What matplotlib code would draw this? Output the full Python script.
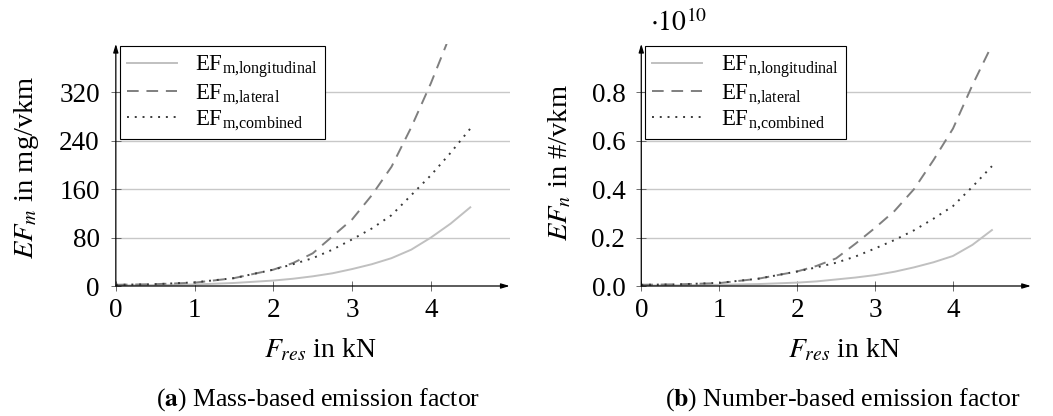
import matplotlib
matplotlib.use("Agg")
import matplotlib.pyplot as plt
import numpy as np

plt.rcParams['font.family'] = ['Liberation Serif', 'DejaVu Serif']
plt.rcParams['mathtext.fontset'] = 'stix'

# ---- data ----
f_res = [0, 0.5, 1, 1.5, 2, 2.25, 2.5, 2.75, 3, 3.25, 3.5, 3.75, 4, 4.25, 4.5]
f_res_lat_m = [0, 0.5, 1, 1.5, 2, 2.25, 2.5, 2.75, 3, 3.25, 3.5, 3.75, 4, 4.2]

ef_m_long = [1, 1.5, 2.5, 5, 9, 12, 16, 21, 28, 36, 46, 60, 80, 103, 130]
ef_m_lat = [2, 3, 5.5, 13, 27, 38, 54, 82, 110, 150, 197, 262, 335, 400]
ef_m_comb = [2, 3, 6, 13, 27, 36, 46, 60, 77, 95, 117, 150, 183, 220, 260]

# number-based values in units of 1e10 #/vkm
ef_n_long = [0.002, 0.003, 0.005, 0.008, 0.014, 0.019, 0.027, 0.035, 0.045, 0.059, 0.077, 0.098, 0.124, 0.17, 0.231]
ef_n_lat = [0.005, 0.007, 0.012, 0.03, 0.06, 0.083, 0.114, 0.175, 0.24, 0.31, 0.40, 0.52, 0.65, 0.83, 0.995]
ef_n_comb = [0.005, 0.007, 0.013, 0.03, 0.06, 0.077, 0.096, 0.122, 0.155, 0.19, 0.23, 0.278, 0.33, 0.41, 0.495]

x_ticks = [0, 1, 2, 3, 4]
m_ticks = [0, 80, 160, 240, 320]
n_ticks = [0.0, 0.2, 0.4, 0.6, 0.8]
n_ticklabels = ["0.0", "0.2", "0.4", "0.6", "0.8"]

c_long = '#c0c0c0'
c_lat = '#7f7f7f'
c_comb = '#3a3a3a'

fig = plt.figure(figsize=(10.53, 4.16), dpi=100)
axL = fig.add_axes([0.110, 0.3125, 0.374, 0.582])
axR = fig.add_axes([0.609, 0.3125, 0.370, 0.582])


def style(ax, ymax, yticks, yticklabels=None):
    ax.set_xlim(0, 5)
    ax.set_ylim(0, ymax)
    for s in ['top', 'right', 'left', 'bottom']:
        ax.spines[s].set_visible(False)
    ax.set_xticks(x_ticks)
    ax.set_yticks(yticks)
    if yticklabels is not None:
        ax.set_yticklabels(yticklabels)
    ax.tick_params(direction='inout', length=7, width=0.6, labelsize=19.5, color='#555555')
    ax.tick_params(axis='x', pad=5)
    ax.tick_params(axis='y', pad=8)
    for y in yticks[1:]:
        ax.axhline(y, color='#c8c8c8', lw=1.0, zorder=0)
    ax.annotate('', xy=(1.0, 0), xytext=(0, 0), xycoords='axes fraction',
                arrowprops=dict(arrowstyle='-|>,head_length=0.5,head_width=0.15', color='black', lw=0.9, shrinkA=0, shrinkB=0))
    ax.annotate('', xy=(0, 1.0), xytext=(0, 0), xycoords='axes fraction',
                arrowprops=dict(arrowstyle='-|>,head_length=0.5,head_width=0.15', color='black', lw=0.9, shrinkA=0, shrinkB=0))
    ax.set_xlabel(r'$F_{res}$ in kN', fontsize=20)
    ax.xaxis.set_label_coords(0.52, -0.21)


# left
axL.plot(f_res, ef_m_long, color=c_long, lw=1.4, ls='-', label=r'EF$_{\mathregular{m{,}longitudinal}}$')
axL.plot(f_res_lat_m, ef_m_lat, color=c_lat, lw=1.4, ls=(0, (6, 4)), label=r'EF$_{\mathregular{m{,}lateral}}$')
axL.plot(f_res, ef_m_comb, color=c_comb, lw=1.4, ls=(0, (1, 3)), label=r'EF$_{\mathregular{m{,}combined}}$')
style(axL, 400, m_ticks)
axL.set_ylabel(r'$EF_m$ in mg/vkm', fontsize=20.5)
axL.yaxis.set_label_coords(-0.19, 0.49)

# right
axR.plot(f_res, ef_n_long, color=c_long, lw=1.4, ls='-', label=r'EF$_{\mathregular{n{,}longitudinal}}$')
axR.plot(f_res, ef_n_lat, color=c_lat, lw=1.4, ls=(0, (6, 4)), label=r'EF$_{\mathregular{n{,}lateral}}$')
axR.plot(f_res, ef_n_comb, color=c_comb, lw=1.4, ls=(0, (1, 3)), label=r'EF$_{\mathregular{n{,}combined}}$')
style(axR, 1.0, n_ticks, n_ticklabels)
axR.set_ylabel(r'$EF_n$ in #/vkm', fontsize=20.5)
axR.yaxis.set_label_coords(-0.175, 0.51)
axR.text(0.023, 1.03, r'$\cdot10^{10}$', transform=axR.transAxes, fontsize=20, ha='left', va='bottom')

for ax in (axL, axR):
    leg = ax.legend(loc='upper left', bbox_to_anchor=(0.01, 0.99), fontsize=16.5, frameon=True,
                    fancybox=False, edgecolor='black', framealpha=1, handlelength=2.2,
                    borderpad=0.3, labelspacing=0.1, handletextpad=0.8, borderaxespad=0.0)
    leg.get_frame().set_linewidth(0.8)

fig.text(0.302, 0.04, r'($\mathbf{a}$) Mass-based emission factor', fontsize=18.5, ha='center', va='center')
fig.text(0.800, 0.04, r'($\mathbf{b}$) Number-based emission factor', fontsize=18.5, ha='center', va='center')

fig.savefig('out.png', dpi=100)
